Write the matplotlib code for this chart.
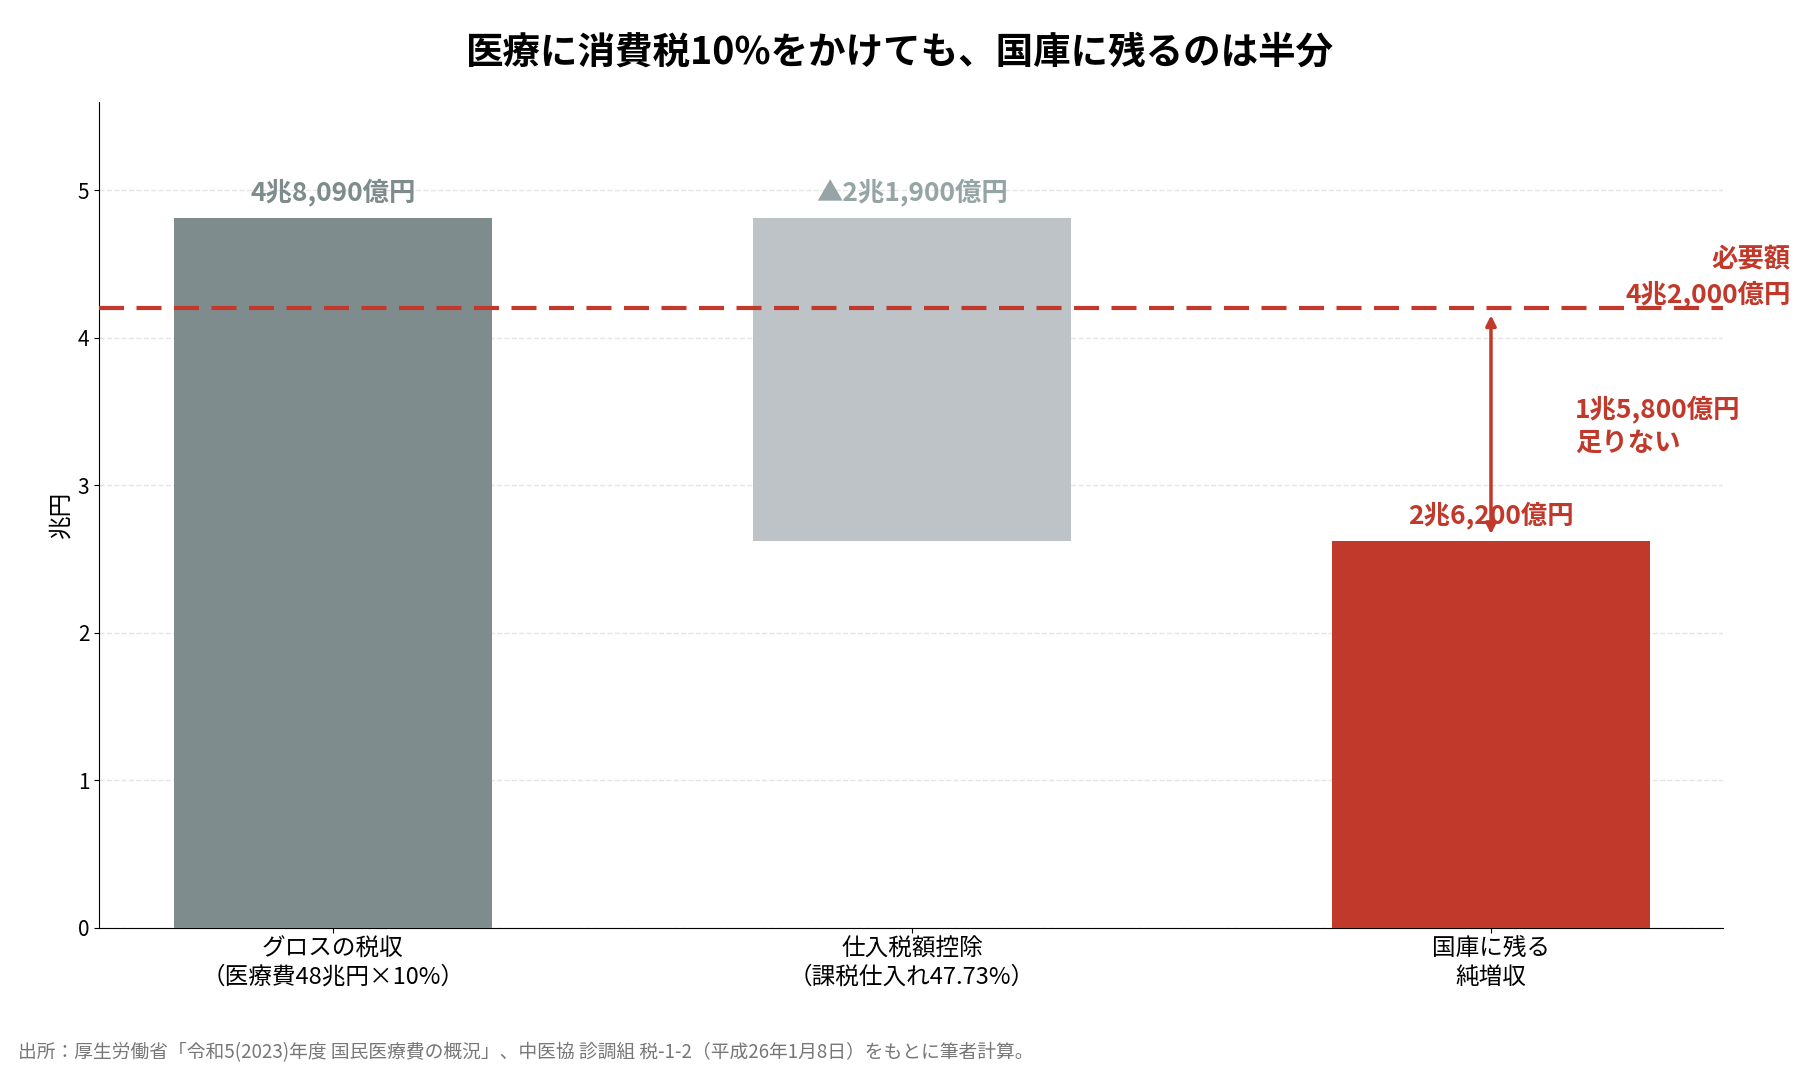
import matplotlib
matplotlib.use("Agg")
import matplotlib.pyplot as plt

plt.rcParams['font.family'] = ['Noto Sans CJK JP', 'DejaVu Sans']

categories = ['グロスの税収\n（医療費48兆円×10%）', '仕入税額控除\n（課税仕入れ47.73%）', '国庫に残る\n純増収']
bottoms = [0, 2.619, 0]
heights = [4.809, 2.19, 2.619]
labels = ['4兆8,090億円', '▲2兆1,900億円', '2兆6,200億円']
colors = ['#7F8C8D', '#BDC3C7', '#C0392B']
label_colors = ['#7F8C8D', '#95A5A6', '#C0392B']
required = 4.2

fig = plt.figure(figsize=(18, 10.8), dpi=100)
ax = fig.add_axes([0.055, 0.141, 0.902, 0.765])

x = range(len(categories))
ax.bar(x, heights, bottom=bottoms, width=0.55, color=colors, zorder=3)
for i in x:
    ax.text(i, bottoms[i] + heights[i] + 0.08, labels[i], ha='center', va='bottom',
            fontsize=19, fontweight='bold', color=label_colors[i], zorder=4)

ax.axhline(required, color='#C0392B', linestyle='--', linewidth=3, dashes=(6, 3), zorder=4)
ax.text(1.042, required + 0.0, '必要額\n4兆2,000億円', transform=ax.get_yaxis_transform(),
        ha='right', va='bottom', fontsize=19, fontweight='bold', color='#C0392B', linespacing=1.3)

ax.annotate('', xy=(2, required - 0.03), xytext=(2, 2.619 + 0.03),
            arrowprops=dict(arrowstyle='<|-|>', color='#C0392B', lw=2.5, mutation_scale=15), zorder=5)
ax.text(2.145, 3.4, '1兆5,800億円\n足りない', ha='left', va='center', fontsize=19,
        fontweight='bold', color='#C0392B', linespacing=1.3)

ax.set_xlim(-0.404, 2.4)
ax.set_ylim(0, 5.6)
ax.set_yticks([0, 1, 2, 3, 4, 5])
ax.set_xticks(list(x))
ax.set_xticklabels(categories, fontsize=17, linespacing=1.3)
ax.tick_params(axis='y', labelsize=15)
ax.set_ylabel('兆円', fontsize=17)
ax.grid(axis='y', linestyle='--', color='#E5E5E5', linewidth=1, zorder=0)
ax.spines['top'].set_visible(False)
ax.spines['right'].set_visible(False)

fig.suptitle('医療に消費税10%をかけても、国庫に残るのは半分', fontsize=27, fontweight='bold', y=0.97)
fig.text(0.01, 0.02, '出所：厚生労働省「令和5(2023)年度 国民医療費の概況」、中医協 診調組 税-1-2（平成26年1月8日）をもとに筆者計算。',
         fontsize=13.5, color='#777777')

fig.savefig('out.png', dpi=100)
